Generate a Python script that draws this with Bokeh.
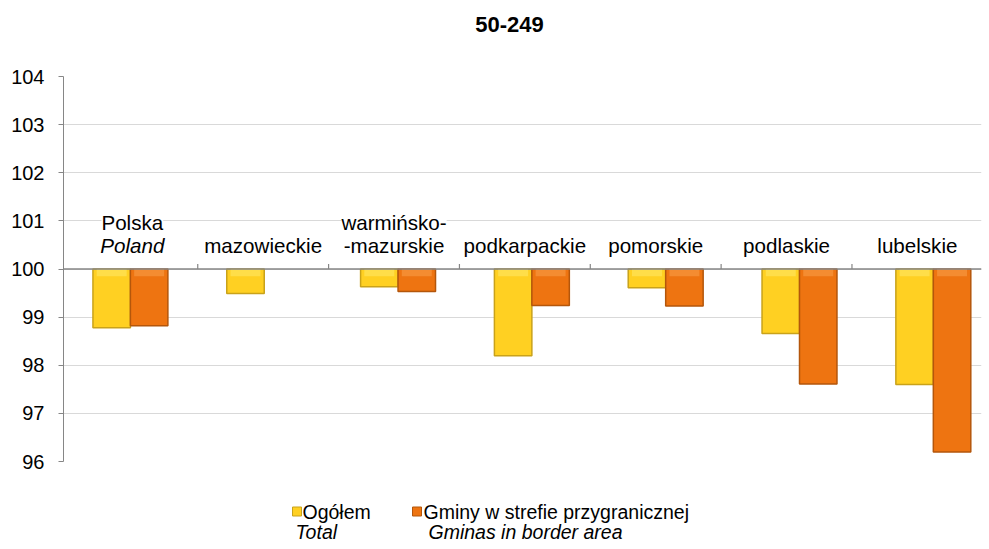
import math
from bokeh.plotting import figure
from bokeh.models import Range1d, FixedTicker, Span, ColumnDataSource, LabelSet
from bokeh.layouts import column
from bokeh.embed import file_html
from bokeh.resources import INLINE
from bokeh.core.properties import value

# ---------------- data ----------------
chart_title = "50-249"
categories_line1 = ["Polska", "", "warmińsko-", "", "", "", ""]
categories_line2 = ["Poland", "mazowieckie", "-mazurskie", "podkarpackie", "pomorskie", "podlaskie", "lubelskie"]
categories_line2_style = ["italic", "normal", "normal", "normal", "normal", "normal", "normal"]
ogolem = [98.78, 99.49, 99.63, 98.20, 99.61, 98.66, 97.60]
gminy = [98.82, None, 99.53, 99.24, 99.23, 97.61, 96.20]
y_ticks = [96, 97, 98, 99, 100, 101, 102, 103, 104]
baseline = 100
legend_line1 = ["Ogółem", "Gminy w strefie przygranicznej"]
legend_line2 = ["Total", "Gminas in border area"]

# ---------------- styles ----------------
FONT = "Liberation Sans"
YELLOW = "#FFD022"
YELLOW_HI = "#FFE45A"
YELLOW_EDGE = "#C9A21A"
ORANGE = "#EE7411"
ORANGE_HI = "#F6973E"
ORANGE_EDGE = "#B4560B"
GRID = "#D9D9D9"
AXIS = "#868686"
BAR_W = 0.28
BEVEL = 0.15

n = len(categories_line2)


def blank_panel(h):
    # the column aligns this frame with the chart frame (63 .. 981 px)
    f = figure(width=983, height=h, output_backend="svg", toolbar_location=None,
               x_range=Range1d(63, 981), y_range=Range1d(h, 0),
               x_axis_location=None, y_axis_location=None,
               min_border_left=63, min_border_right=2, min_border_top=0, min_border_bottom=0)
    f.grid.visible = False
    f.outline_line_color = None
    return f


# ---------------- title panel ----------------
pt = blank_panel(50)
pt.text(x=[509], y=[24], text=[chart_title], text_font=value(FONT), text_font_size="22px",
        text_font_style="bold", text_align="center", text_baseline="middle", text_color="black")

# ---------------- chart ----------------
p = figure(width=983, height=438, output_backend="svg", toolbar_location=None,
           x_range=Range1d(0, 6.86), y_range=Range1d(96, 104),
           min_border_left=63, min_border_right=2, min_border_top=26, min_border_bottom=27)
p.extra_x_ranges = {"cat": Range1d(-0.026, 6.99)}
p.outline_line_color = None
p.background_fill_color = "white"
p.border_fill_color = "white"

p.xaxis.visible = False
p.xgrid.visible = False
p.yaxis.ticker = FixedTicker(ticks=y_ticks)
p.yaxis.minor_tick_line_color = None
p.yaxis.major_tick_in = 0
p.yaxis.major_tick_out = 5
p.yaxis.major_tick_line_color = AXIS
p.yaxis.axis_line_color = AXIS
p.yaxis.major_label_text_font = FONT
p.yaxis.major_label_text_font_size = "20px"
p.yaxis.major_label_text_color = "black"
p.yaxis.major_label_standoff = 14
p.ygrid.grid_line_color = GRID
p.ygrid.ticker = FixedTicker(ticks=y_ticks)


def bar_source(vals, shift):
    xs = [i + 0.5 + shift for i in range(n) if vals[i] is not None]
    bottoms = [v for v in vals if v is not None]
    return ColumnDataSource(dict(x=xs, bottom=bottoms, top=[baseline] * len(xs),
                                 hi_bottom=[max(b, baseline - BEVEL) for b in bottoms]))


og_src = bar_source(ogolem, -BAR_W / 2)
gm_src = bar_source(gminy, BAR_W / 2)
for src, fc, hc, ec in [(og_src, YELLOW, YELLOW_HI, YELLOW_EDGE), (gm_src, ORANGE, ORANGE_HI, ORANGE_EDGE)]:
    p.vbar(x="x", top="top", bottom="bottom", width=BAR_W, source=src,
           fill_color=fc, line_color=ec, line_width=1.5)
    p.vbar(x="x", top="top", bottom="hi_bottom", width=BAR_W * 0.8, source=src,
           fill_color=hc, fill_alpha=0.7, line_color=None)

# category axis at 100
p.add_layout(Span(location=baseline, dimension="width", line_color=AXIS, line_width=1.5))
tick_x = list(range(1, n))
p.segment(x0=tick_x, x1=tick_x, y0=[baseline] * len(tick_x), y1=[baseline + 0.105] * len(tick_x),
          x_range_name="cat", line_color=AXIS, line_width=1.2)

l1 = [(i + 0.5, t) for i, t in enumerate(categories_line1) if t]
src1 = ColumnDataSource(dict(x=[a for a, _ in l1], y=[baseline] * len(l1), text=[t for _, t in l1]))
src2 = ColumnDataSource(dict(x=[i + 0.5 for i in range(n)], y=[baseline] * n,
                             text=categories_line2, style=categories_line2_style))
p.add_layout(LabelSet(x="x", y="y", text="text", source=src1, x_range_name="cat",
                      y_offset=47, text_align="center", text_baseline="middle",
                      text_font=value(FONT), text_font_size="20.6px", text_color="black",
                      background_fill_color="white"))
p.add_layout(LabelSet(x="x", y="y", text="text", source=src2, x_range_name="cat",
                      y_offset=24, text_align="center", text_baseline="middle",
                      text_font=value(FONT), text_font_size="20.6px", text_color="black",
                      text_font_style="style", background_fill_color="white"))

# ---------------- legend panel ----------------
p2 = blank_panel(55)
icon_x = [296.5, 416.5]
text1_x = [302, 423]
text2_x = [295, 428]
p2.scatter(x=icon_x, y=[23, 23], marker="square", size=9,
           fill_color=[YELLOW, ORANGE], line_color=[YELLOW_EDGE, ORANGE_EDGE], line_width=1)
p2.text(x=text1_x, y=[23, 23], text=legend_line1, text_font=value(FONT), text_font_size="19.5px",
        text_align="left", text_baseline="middle", text_color="black")
p2.text(x=text2_x, y=[43, 43], text=legend_line2, text_font=value(FONT), text_font_size="19.5px",
        text_font_style="italic", text_align="left", text_baseline="middle", text_color="black")

layout = column(pt, p, p2)
open("out.html", "w").write(file_html(layout, INLINE))
